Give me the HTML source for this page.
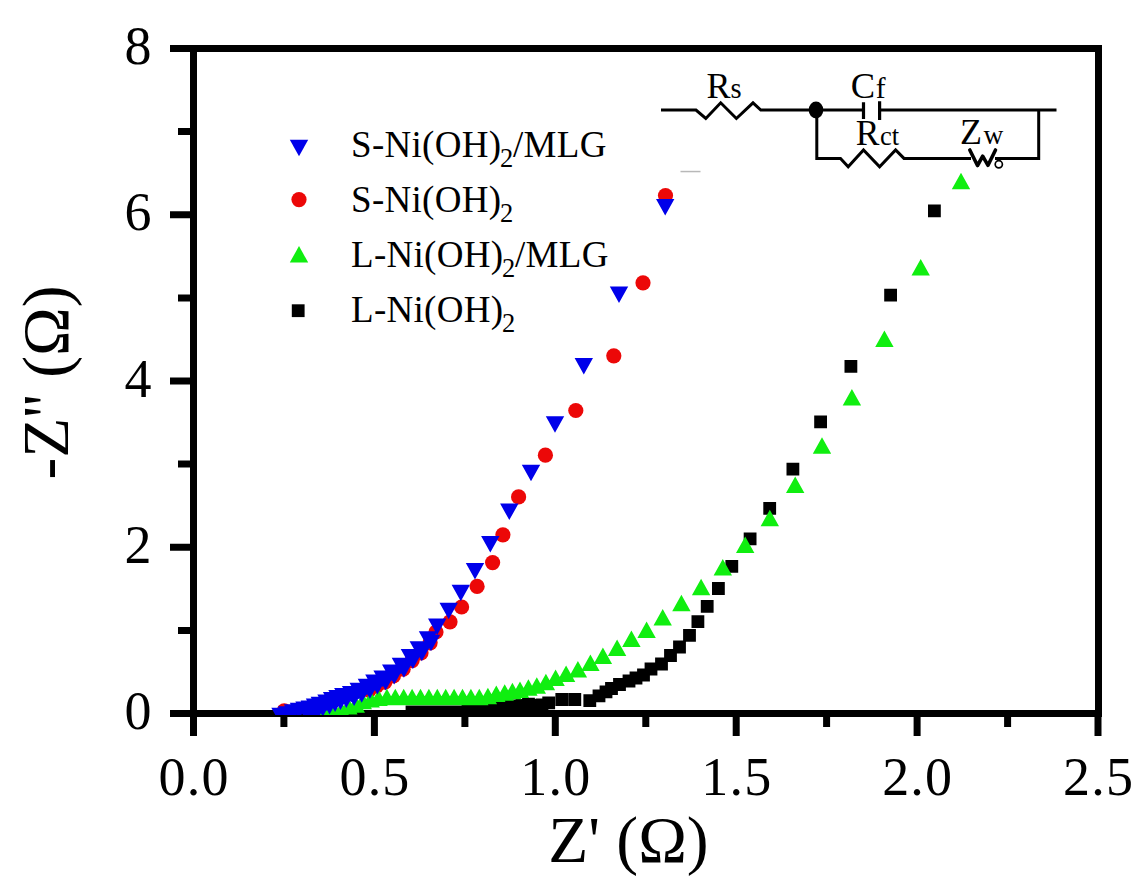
<!DOCTYPE html>
<html><head><meta charset="utf-8"><style>
html,body{margin:0;padding:0;background:#fff;}
body{width:1146px;height:896px;overflow:hidden;}
svg{display:block;}
text{font-family:"Liberation Serif",serif;fill:#000;}
</style></head><body>
<svg width="1146" height="896" viewBox="0 0 1146 896">
<defs><clipPath id="pc"><rect x="197" y="52" width="898" height="663"/></clipPath></defs>
<rect width="1146" height="896" fill="#fff"/>
<rect x="193.5" y="48.5" width="905.0" height="665.0" fill="none" stroke="#000" stroke-width="7"/>
<path d="M193.5 713.5H170M193.5 630.4H178M193.5 547.2H170M193.5 464.1H178M193.5 381H170M193.5 297.9H178M193.5 214.8H170M193.5 131.6H178M193.5 48.5H170M193.5 713.5V736M283.9 713.5V727M374.4 713.5V736M464.9 713.5V727M555.3 713.5V736M645.8 713.5V727M736.2 713.5V736M826.6 713.5V727M917.1 713.5V736M1007.6 713.5V727M1098 713.5V736" stroke="#000" stroke-width="7" fill="none"/>
<g clip-path="url(#pc)">
<path fill="#000" d="M338.6 710.1h12.8v12.8h-12.8zM346.6 710.1h12.8v12.8h-12.8zM354.6 710.1h12.8v12.8h-12.8zM362.6 710.1h12.8v12.8h-12.8zM370.6 710.1h12.8v12.8h-12.8zM378.6 710.1h12.8v12.8h-12.8zM386.6 710.1h12.8v12.8h-12.8zM394.6 710.1h12.8v12.8h-12.8zM405.6 705.6h12.8v12.8h-12.8zM413.6 705.6h12.8v12.8h-12.8zM421.6 705.6h12.8v12.8h-12.8zM429.6 705.6h12.8v12.8h-12.8zM437.6 705.6h12.8v12.8h-12.8zM445.6 705.6h12.8v12.8h-12.8zM453.6 705.6h12.8v12.8h-12.8zM461.6 704.6h12.8v12.8h-12.8zM469.6 703.6h12.8v12.8h-12.8zM477.6 702.6h12.8v12.8h-12.8zM485.6 701.6h12.8v12.8h-12.8zM493.6 701.1h12.8v12.8h-12.8zM501.6 700.1h12.8v12.8h-12.8zM509.6 699.6h12.8v12.8h-12.8zM515.6 699.1h12.8v12.8h-12.8zM522.1 697.8h12.8v12.8h-12.8zM529.1 699.1h12.8v12.8h-12.8zM535.6 698.6h12.8v12.8h-12.8zM542.3 696.5h12.8v12.8h-12.8zM555.4 693.1h12.8v12.8h-12.8zM568.4 693.1h12.8v12.8h-12.8zM583.4 694.3h12.8v12.8h-12.8zM592.6 689.4h12.8v12.8h-12.8zM599.6 685.4h12.8v12.8h-12.8zM605.1 682.1h12.8v12.8h-12.8zM613.1 678.1h12.8v12.8h-12.8zM622.6 674.6h12.8v12.8h-12.8zM629.6 671.6h12.8v12.8h-12.8zM637.1 668.6h12.8v12.8h-12.8zM644.6 662.6h12.8v12.8h-12.8zM655.1 657.6h12.8v12.8h-12.8zM664.1 649.1h12.8v12.8h-12.8zM673.1 640.6h12.8v12.8h-12.8zM683.1 629h12.8v12.8h-12.8zM691.5 615.3h12.8v12.8h-12.8zM700.8 600h12.8v12.8h-12.8zM712 582.1h12.8v12.8h-12.8zM725.4 560h12.8v12.8h-12.8zM743.7 532.5h12.8v12.8h-12.8zM763.3 501.9h12.8v12.8h-12.8zM786.5 462.7h12.8v12.8h-12.8zM814.2 415.4h12.8v12.8h-12.8zM844.5 360h12.8v12.8h-12.8zM884.2 288.7h12.8v12.8h-12.8zM928 204.4h12.8v12.8h-12.8z"/>
<g fill="#ec0808"><circle cx="284.2" cy="710.8" r="7.6"/><circle cx="369.1" cy="690.2" r="7.6"/><circle cx="376.6" cy="686" r="7.6"/><circle cx="384.8" cy="682.1" r="7.6"/><circle cx="393.4" cy="675.9" r="7.6"/><circle cx="403.1" cy="669.2" r="7.6"/><circle cx="412.1" cy="660.6" r="7.6"/><circle cx="421" cy="652.8" r="7.6"/><circle cx="430.1" cy="642.8" r="7.6"/><circle cx="436" cy="632" r="7.6"/><circle cx="450" cy="621.8" r="7.6"/><circle cx="461.6" cy="607" r="7.6"/><circle cx="477.1" cy="586.4" r="7.6"/><circle cx="492.6" cy="562.6" r="7.6"/><circle cx="502.9" cy="534.8" r="7.6"/><circle cx="518.6" cy="496.9" r="7.6"/><circle cx="545.4" cy="455.2" r="7.6"/><circle cx="575.8" cy="410.5" r="7.6"/><circle cx="613.8" cy="355.8" r="7.6"/><circle cx="643" cy="282.8" r="7.6"/><circle cx="665.5" cy="195.6" r="7.6"/></g>
<path fill="#10ee10" d="M320 705.5l9.2 16.5h-18.4zM327 704.5l9.2 16.5h-18.4zM334.9 703.6l9.2 16.5h-18.4zM341.4 701.8l9.2 16.5h-18.4zM348.4 697.9l9.2 16.5h-18.4zM355.8 696.2l9.2 16.5h-18.4zM362.8 692.7l9.2 16.5h-18.4zM370.7 690.9l9.2 16.5h-18.4zM378.5 689.5l9.2 16.5h-18.4zM386.9 688.8l9.2 16.5h-18.4zM395.3 688.8l9.2 16.5h-18.4zM403.7 688.8l9.2 16.5h-18.4zM412.1 688.8l9.2 16.5h-18.4zM420.5 688.8l9.2 16.5h-18.4zM428.9 688.8l9.2 16.5h-18.4zM437.3 688.8l9.2 16.5h-18.4zM445.7 688.8l9.2 16.5h-18.4zM454.1 688.8l9.2 16.5h-18.4zM462.5 688.8l9.2 16.5h-18.4zM470.9 688.8l9.2 16.5h-18.4zM479.3 688.8l9.2 16.5h-18.4zM487.9 687.7l9.2 16.5h-18.4zM496.3 685.6l9.2 16.5h-18.4zM504.7 684.2l9.2 16.5h-18.4zM512.4 682.8l9.2 16.5h-18.4zM520 681.4l9.2 16.5h-18.4zM528.4 679.3l9.2 16.5h-18.4zM536.8 677.2l9.2 16.5h-18.4zM545.9 673.8l9.2 16.5h-18.4zM555.6 669.6l9.2 16.5h-18.4zM566.1 665.4l9.2 16.5h-18.4zM577.9 660.9l9.2 16.5h-18.4zM590.4 654.6l9.2 16.5h-18.4zM602.9 647.5l9.2 16.5h-18.4zM617.1 639.5l9.2 16.5h-18.4zM631.4 630.5l9.2 16.5h-18.4zM646.6 621.6l9.2 16.5h-18.4zM662.7 609.1l9.2 16.5h-18.4zM681.4 594.8l9.2 16.5h-18.4zM701.1 578.8l9.2 16.5h-18.4zM722.8 558.9l9.2 16.5h-18.4zM745.2 536.5l9.2 16.5h-18.4zM769.8 509.8l9.2 16.5h-18.4zM795.2 476.4l9.2 16.5h-18.4zM822 437.2l9.2 16.5h-18.4zM851.9 388.9l9.2 16.5h-18.4zM884.4 330.4l9.2 16.5h-18.4zM920.7 259.1l9.2 16.5h-18.4zM961 172.8l9.2 16.5h-18.4z"/>
<path fill="#0000ea" d="M298.3 705h18.4l-9.2 16.5zM303.6 703.9h18.4l-9.2 16.5zM308.8 702h18.4l-9.2 16.5zM313.6 700.2h18.4l-9.2 16.5zM320.3 698.1h18.4l-9.2 16.5zM325.9 695.5h18.4l-9.2 16.5zM331.3 693.5h18.4l-9.2 16.5zM337.1 691.6h18.4l-9.2 16.5zM344.9 689.4h18.4l-9.2 16.5zM352.5 686.2h18.4l-9.2 16.5zM360.7 682.3h18.4l-9.2 16.5zM368.2 678h18.4l-9.2 16.5zM376.4 674.1h18.4l-9.2 16.5zM385 667.9h18.4l-9.2 16.5zM394.7 661.2h18.4l-9.2 16.5zM403.7 652.6h18.4l-9.2 16.5zM412.6 644.8h18.4l-9.2 16.5zM421.8 634.8h18.4l-9.2 16.5zM271.3 707.8h18.4l-9.2 16.5zM277.8 706.2h18.4l-9.2 16.5zM283.8 704.2h18.4l-9.2 16.5zM289.8 702.8h18.4l-9.2 16.5zM295.3 701.5h18.4l-9.2 16.5zM300.6 700.4h18.4l-9.2 16.5zM305.8 698.5h18.4l-9.2 16.5zM310.6 696.8h18.4l-9.2 16.5zM317.3 694.6h18.4l-9.2 16.5zM322.9 692h18.4l-9.2 16.5zM328.3 690h18.4l-9.2 16.5zM334.1 688.1h18.4l-9.2 16.5zM341.9 685.9h18.4l-9.2 16.5zM349.5 682.7h18.4l-9.2 16.5zM357.7 678.8h18.4l-9.2 16.5zM365.2 674.5h18.4l-9.2 16.5zM373.4 670.6h18.4l-9.2 16.5zM382 664.4h18.4l-9.2 16.5zM391.7 657.7h18.4l-9.2 16.5zM400.7 649.1h18.4l-9.2 16.5zM409.6 641.3h18.4l-9.2 16.5zM418.8 631.3h18.4l-9.2 16.5zM428 618.4h18.4l-9.2 16.5zM439.5 602.7h18.4l-9.2 16.5zM451.6 584.7h18.4l-9.2 16.5zM465.8 562.9h18.4l-9.2 16.5zM481.1 536.1h18.4l-9.2 16.5zM500.1 503.6h18.4l-9.2 16.5zM521.8 464.8h18.4l-9.2 16.5zM545.8 416.2h18.4l-9.2 16.5zM574.6 358.1h18.4l-9.2 16.5zM609.8 286.4h18.4l-9.2 16.5zM656 198.9h18.4l-9.2 16.5z"/>
</g>
<g font-size="54"><text x="151.5" y="729.1" text-anchor="end">0</text><text x="151.5" y="562.9" text-anchor="end">2</text><text x="151.5" y="396.6" text-anchor="end">4</text><text x="151.5" y="230.3" text-anchor="end">6</text><text x="151.5" y="64.1" text-anchor="end">8</text><text x="194.1" y="794.8" text-anchor="middle" letter-spacing="1.2">0.0</text><text x="375" y="794.8" text-anchor="middle" letter-spacing="1.2">0.5</text><text x="555.9" y="794.8" text-anchor="middle" letter-spacing="1.2">1.0</text><text x="736.8" y="794.8" text-anchor="middle" letter-spacing="1.2">1.5</text><text x="917.7" y="794.8" text-anchor="middle" letter-spacing="1.2">2.0</text><text x="1098.6" y="794.8" text-anchor="middle" letter-spacing="1.2">2.5</text></g>
<text x="628.4" y="862.2" font-size="65.5" text-anchor="middle">Z' (&#937;)</text>
<text transform="translate(67.5 382.5) rotate(-90)" font-size="65.5" text-anchor="middle">-Z'' (&#937;)</text>
<text x="351" y="157.2" font-size="37" letter-spacing="0.3">S-Ni(OH)<tspan font-size="26.5" dx="-1.5" dy="9.5">2</tspan><tspan dy="-9.5" dx="-0.5">/MLG</tspan></text>
<text x="351" y="212.2" font-size="37" letter-spacing="0.3">S-Ni(OH)<tspan font-size="26.5" dx="-1.5" dy="9.5">2</tspan><tspan dy="-9.5" dx="-0.5"></tspan></text>
<text x="351" y="267.1" font-size="37" letter-spacing="0.3">L-Ni(OH)<tspan font-size="26.5" dx="-1.5" dy="9.5">2</tspan><tspan dy="-9.5" dx="-0.5">/MLG</tspan></text>
<text x="351" y="322.1" font-size="37" letter-spacing="0.3">L-Ni(OH)<tspan font-size="26.5" dx="-1.5" dy="9.5">2</tspan><tspan dy="-9.5" dx="-0.5"></tspan></text>
<path fill="#0000ea" d="M289.8 139.8h18.4l-9.2 16.5z"/>
<circle cx="299" cy="199.6" r="7.6" fill="#ec0808"/>
<path fill="#10ee10" d="M299 246.1l9.2 16.5h-18.4z"/>
<path fill="#000" d="M291.8 304.3h12.8v12.8h-12.8z"/>
<path d="M661 110H696L705.8 118.5L720.7 102.8L736.4 118.5L753 102.8L760.8 110H863.5M879.6 110H1056.5M816.8 110V158.4H840.5L848.2 166.8L863.5 150L879.6 166.8L895.6 150L904 158.4H971M995 158.4H1038.7V110" fill="none" stroke="#000" stroke-width="3" stroke-linejoin="miter"/>
<path d="M863.5 102.3V119M879.6 101.2V120" stroke="#000" stroke-width="3.2"/>
<rect x="680.5" y="170.8" width="20" height="1.5" fill="#b8b8b8"/>
<ellipse cx="816" cy="110" rx="7.3" ry="8.4" fill="#000"/>
<path d="M969.8 150L977.5 165.5L982.7 156.2L988 165.3L995.5 150" fill="none" stroke="#000" stroke-width="3.6" stroke-linejoin="round" stroke-linecap="round"/>
<circle cx="998.8" cy="164.3" r="3.6" fill="none" stroke="#000" stroke-width="1.7"/>
<text x="706.5" y="98" font-size="36">R<tspan font-size="28.5">s</tspan></text>
<text x="850.8" y="97.6" font-size="36.5">C<tspan font-size="29.5" dx="0.5">f</tspan></text>
<text x="855.8" y="145.3" font-size="35.5">R<tspan font-size="26.5" dx="0.5">ct</tspan></text>
<text x="960" y="144.1" font-size="36">Z<tspan font-size="27.5" dx="1.5">w</tspan></text>
</svg>
</body></html>
